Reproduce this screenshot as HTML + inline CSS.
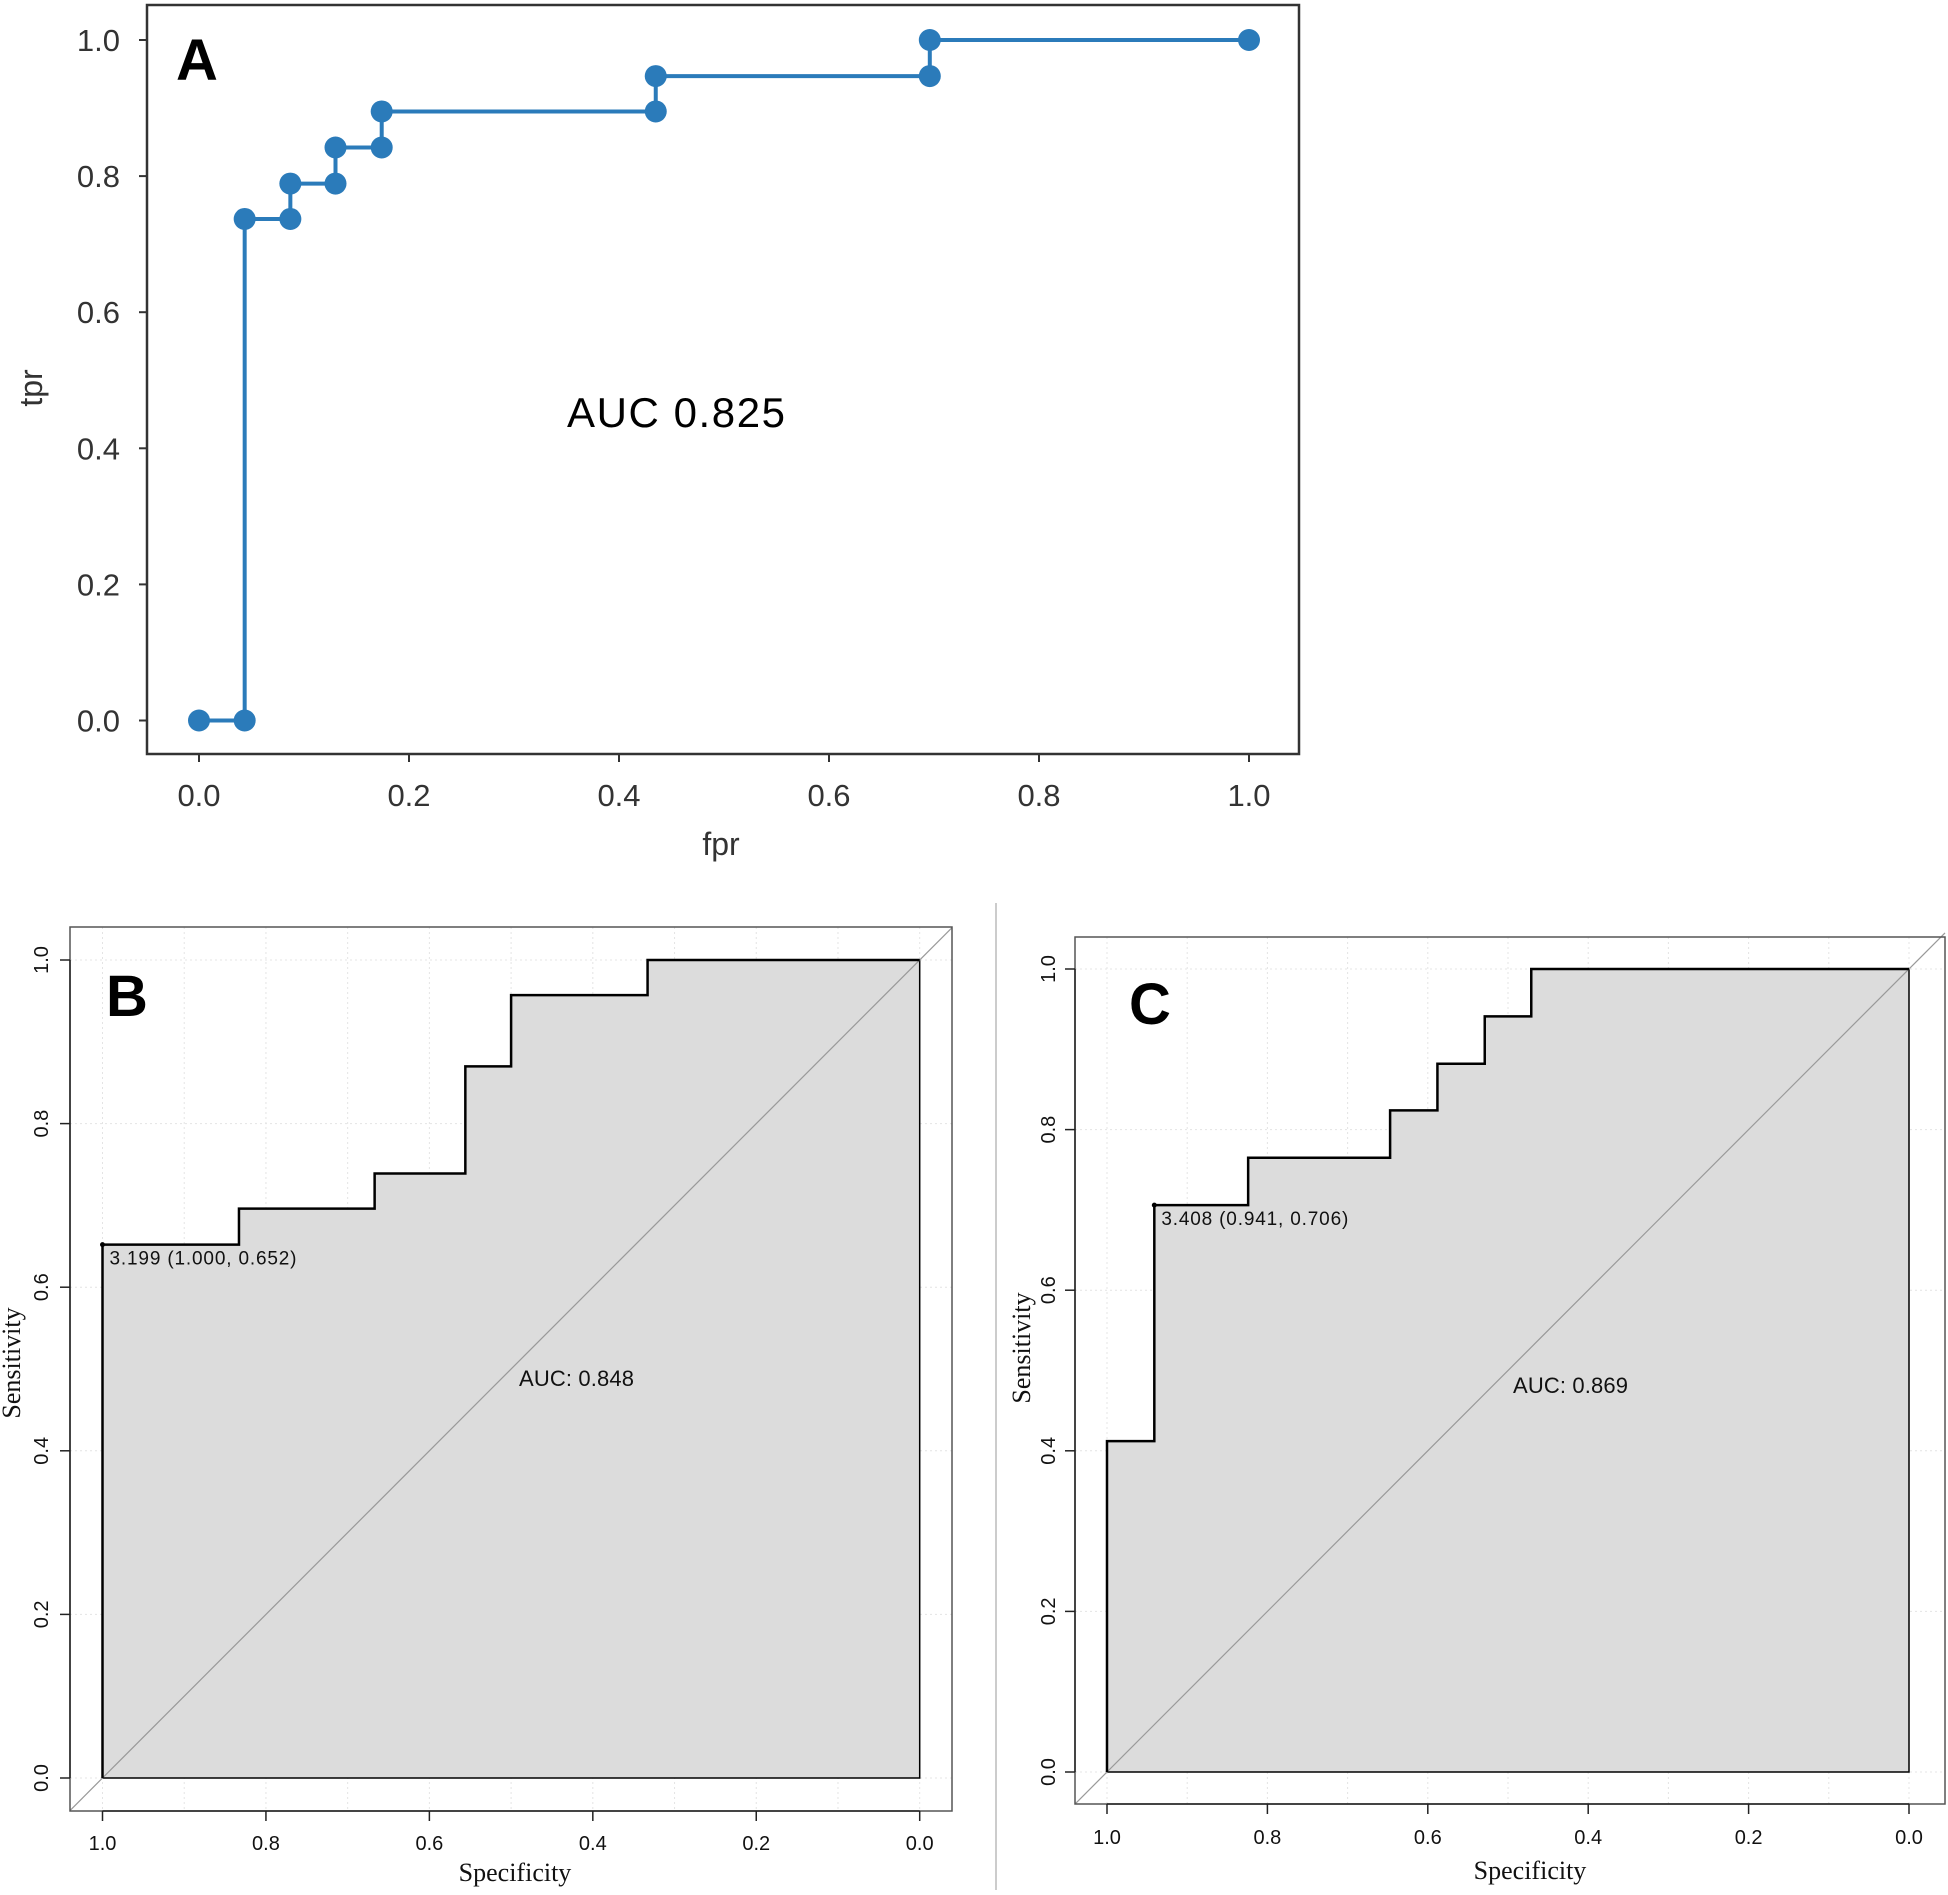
<!DOCTYPE html>
<html><head><meta charset="utf-8"><style>
html,body{margin:0;padding:0;background:#fff;}
svg{display:block;}
</style></head><body>
<svg id="fig" width="1948" height="1895" viewBox="0 0 1948 1895" xmlns="http://www.w3.org/2000/svg">
<rect x="0" y="0" width="1948" height="1895" fill="#fff"/>
<line x1="996" y1="903" x2="996" y2="1890" stroke="#ccc" stroke-width="2"/>
<g id="pa"></g>
<g id="pb"></g>
<g id="pc"></g>
</svg>
<script>
// Panel A data
const fprA = [0, 0.0435, 0.0435, 0.087, 0.087, 0.130, 0.130, 0.174, 0.174, 0.435, 0.435, 0.696, 0.696, 1.0];
const tprA = [0, 0, 0.737, 0.737, 0.789, 0.789, 0.842, 0.842, 0.895, 0.895, 0.947, 0.947, 1.0, 1.0];
const ticksA = [0, 0.2, 0.4, 0.6, 0.8, 1.0];
const tickLabelsA = ["0.0", "0.2", "0.4", "0.6", "0.8", "1.0"];
// Panel B data
const specB = [1, 1, 0.833, 0.833, 0.667, 0.667, 0.556, 0.556, 0.5, 0.5, 0.333, 0.333, 0];
const sensB = [0, 0.652, 0.652, 0.696, 0.696, 0.739, 0.739, 0.870, 0.870, 0.957, 0.957, 1.0, 1.0];
// Panel C data
const specC = [1, 1, 0.941, 0.941, 0.824, 0.824, 0.647, 0.647, 0.588, 0.588, 0.529, 0.529, 0.471, 0.471, 0];
const sensC = [0, 0.412, 0.412, 0.706, 0.706, 0.765, 0.765, 0.824, 0.824, 0.882, 0.882, 0.941, 0.941, 1.0, 1.0];
const ticksR = [0, 0.2, 0.4, 0.6, 0.8, 1.0];
const tickLabelsR = ["0.0", "0.2", "0.4", "0.6", "0.8", "1.0"];

const NS = "http://www.w3.org/2000/svg";
function mk(parent, tag, attrs, text) {
  const e = document.createElementNS(NS, tag);
  for (const k in attrs) e.setAttribute(k, attrs[k]);
  if (text !== undefined) e.textContent = text;
  parent.appendChild(e);
  return e;
}

// ---------- Panel A ----------
(function(){
  const g = document.getElementById('pa');
  const X = v => 199 + v * (1249 - 199);
  const Y = v => 720.5 - v * (720.5 - 40);
  const fr = mk(g, 'rect', {x:147, y:5, width:1152, height:749, fill:'none', stroke:'#333', 'stroke-width':2.5});
  
  
  ticksA.forEach((t, i) => {
    const tx = mk(g, 'line', {x1:X(t), y1:754, x2:X(t), y2:762, stroke:'#333', 'stroke-width':2});
    
    
    const lx = mk(g, 'text', {x:X(t), y:806, 'text-anchor':'middle', 'font-size':31, fill:'#333', 'font-family':'Liberation Sans, sans-serif'}, tickLabelsA[i]);
    
    
    const ty = mk(g, 'line', {x1:139, y1:Y(t), x2:147, y2:Y(t), stroke:'#333', 'stroke-width':2});
    
    
    const ly = mk(g, 'text', {x:120, y:Y(t)+11, 'text-anchor':'end', 'font-size':31, fill:'#333', 'font-family':'Liberation Sans, sans-serif'}, tickLabelsA[i]);
    
    
  });
  const pts = fprA.map((v, i) => X(v) + ',' + Y(tprA[i])).join(' ');
  const line = mk(g, 'polyline', {points:pts, fill:'none', stroke:'#2b7bba', 'stroke-width':4});
  
  
  fprA.forEach((v, i) => {
    const c = mk(g, 'circle', {cx:X(v), cy:Y(tprA[i]), r:11, fill:'#2b7bba'});
    
    
  });
  const xl = mk(g, 'text', {x:721, y:855, 'text-anchor':'middle', 'font-size':32, fill:'#333', 'font-family':'Liberation Sans, sans-serif'}, 'fpr');
  
  
  const yl = mk(g, 'text', {x:0, y:0, transform:'translate(42,388) rotate(-90)', 'text-anchor':'middle', 'font-size':32, fill:'#333', 'font-family':'Liberation Sans, sans-serif'}, 'tpr');
  
  
  const pl = mk(g, 'text', {x:176, y:80, 'font-size':58, 'font-weight':'bold', fill:'#000', 'font-family':'Liberation Sans, sans-serif'}, 'A');
  
  
  const au = mk(g, 'text', {x:567, y:427, 'font-size':42, fill:'#000', 'font-family':'Liberation Sans, sans-serif', textLength:218}, 'AUC 0.825');
  
  
})();

// ---------- R-style panels ----------
function rPanel(gid, cfg, spec, sens) {
  const g = document.getElementById(gid);
  const X = v => cfg.x1 + (1 - v) * (cfg.x0 - cfg.x1);
  const Y = v => cfg.y0 - v * (cfg.y0 - cfg.y1);
  const F = cfg.frame;
  for (let k = 0; k <= 10; k++) {
    const v = k / 10;
    const gl = mk(g, 'line', {x1:X(v), y1:F[1], x2:X(v), y2:F[3], stroke:'#e4e4e4', 'stroke-width':1, 'stroke-dasharray':'2,3'});
    
    
  }
  ticksR.forEach(t => {
    const gl = mk(g, 'line', {x1:F[0], y1:Y(t), x2:F[2], y2:Y(t), stroke:'#e4e4e4', 'stroke-width':1, 'stroke-dasharray':'2,3'});
    
    
  });
  let pts = spec.map((v, i) => X(v) + ',' + Y(sens[i]));
  pts.push(X(0) + ',' + Y(0));
  const poly = mk(g, 'polygon', {points:pts.join(' '), fill:'#dcdcdc', stroke:'#000', 'stroke-width':1.5});
  
  
  const d = mk(g, 'line', {x1:F[0], y1:Y(0) + (F[0] - X(1)) * (Y(1) - Y(0)) / (X(0) - X(1)), x2:F[2], y2:Y(0) + (F[2] - X(1)) * (Y(1) - Y(0)) / (X(0) - X(1)), stroke:'#999', 'stroke-width':1.2});
  
  
  const cl = mk(g, 'polyline', {points:spec.map((v, i) => X(v) + ',' + Y(sens[i])).join(' '), fill:'none', stroke:'#000', 'stroke-width':2.5});
  
  
  const fr = mk(g, 'rect', {x:F[0], y:F[1], width:F[2]-F[0], height:F[3]-F[1], fill:'none', stroke:'#555', 'stroke-width':1.5});
  
  
  const ax = mk(g, 'line', {x1:X(1), y1:F[3], x2:X(0), y2:F[3], stroke:'#222', 'stroke-width':1.5});
  
  
  const ay = mk(g, 'line', {x1:F[0], y1:Y(0), x2:F[0], y2:Y(1), stroke:'#222', 'stroke-width':1.5});
  
  
  ticksR.forEach((t, i) => {
    const tx = mk(g, 'line', {x1:X(t), y1:F[3], x2:X(t), y2:F[3]+10, stroke:'#222', 'stroke-width':1.5});
    
    
    const lx = mk(g, 'text', {x:X(t), y:cfg.xly, 'text-anchor':'middle', 'font-size':20, fill:'#111', 'font-family':'Liberation Sans, sans-serif'}, tickLabelsR[i]);
    
    
    const ty = mk(g, 'line', {x1:F[0]-10, y1:Y(t), x2:F[0], y2:Y(t), stroke:'#222', 'stroke-width':1.5});
    
    
    const ly = mk(g, 'text', {x:0, y:0, transform:'translate(' + cfg.ylx + ',' + Y(t) + ') rotate(-90)', 'text-anchor':'middle', 'font-size':20, fill:'#111', 'font-family':'Liberation Sans, sans-serif'}, tickLabelsR[i]);
    
    
  });
  const xt = mk(g, 'text', {x:cfg.xt[0], y:cfg.xt[1], 'text-anchor':'middle', 'font-size':26, fill:'#111', 'font-family':'Liberation Serif, serif'}, 'Specificity');
  
  
  const yt = mk(g, 'text', {x:0, y:0, transform:'translate(' + cfg.yt[0] + ',' + cfg.yt[1] + ') rotate(-90)', 'text-anchor':'middle', 'font-size':26, fill:'#111', 'font-family':'Liberation Serif, serif'}, 'Sensitivity');
  
  
  const pl = mk(g, 'text', {x:cfg.pl[0], y:cfg.pl[1], 'font-size':58, 'font-weight':'bold', fill:'#000', 'font-family':'Liberation Sans, sans-serif'}, cfg.label);
  
  
  const dot = mk(g, 'circle', {cx:X(cfg.best[0]), cy:Y(cfg.best[1]), r:2.5, fill:'#000'});
  
  
  const bt = mk(g, 'text', {x:X(cfg.best[0]) + 7, y:Y(cfg.best[1]) + 20, 'font-size':19, fill:'#111', 'font-family':'Liberation Sans, sans-serif', textLength:187}, cfg.bestText);
  
  
  const au = mk(g, 'text', {x:cfg.auc[0], y:cfg.auc[1], 'font-size':22, fill:'#111', 'font-family':'Liberation Sans, sans-serif', textLength:115}, cfg.aucText);
  
  
}

rPanel('pb', {frame:[70, 927, 952, 1811], x1:102.5, x0:919.7, y0:1778, y1:960, xly:1850, ylx:48, xt:[515, 1881], yt:[20, 1363], pl:[106, 1016], label:'B', best:[1.0, 0.652], bestText:'3.199 (1.000, 0.652)', auc:[519, 1386], aucText:'AUC: 0.848'}, specB, sensB);
rPanel('pc', {frame:[1075, 937, 1945, 1804], x1:1107, x0:1909, y0:1772, y1:969, xly:1844, ylx:1055, xt:[1530, 1879], yt:[1030, 1348], pl:[1129, 1024], label:'C', best:[0.941, 0.706], bestText:'3.408 (0.941, 0.706)', auc:[1513, 1393], aucText:'AUC: 0.869'}, specC, sensC);
</script>
</body></html>
